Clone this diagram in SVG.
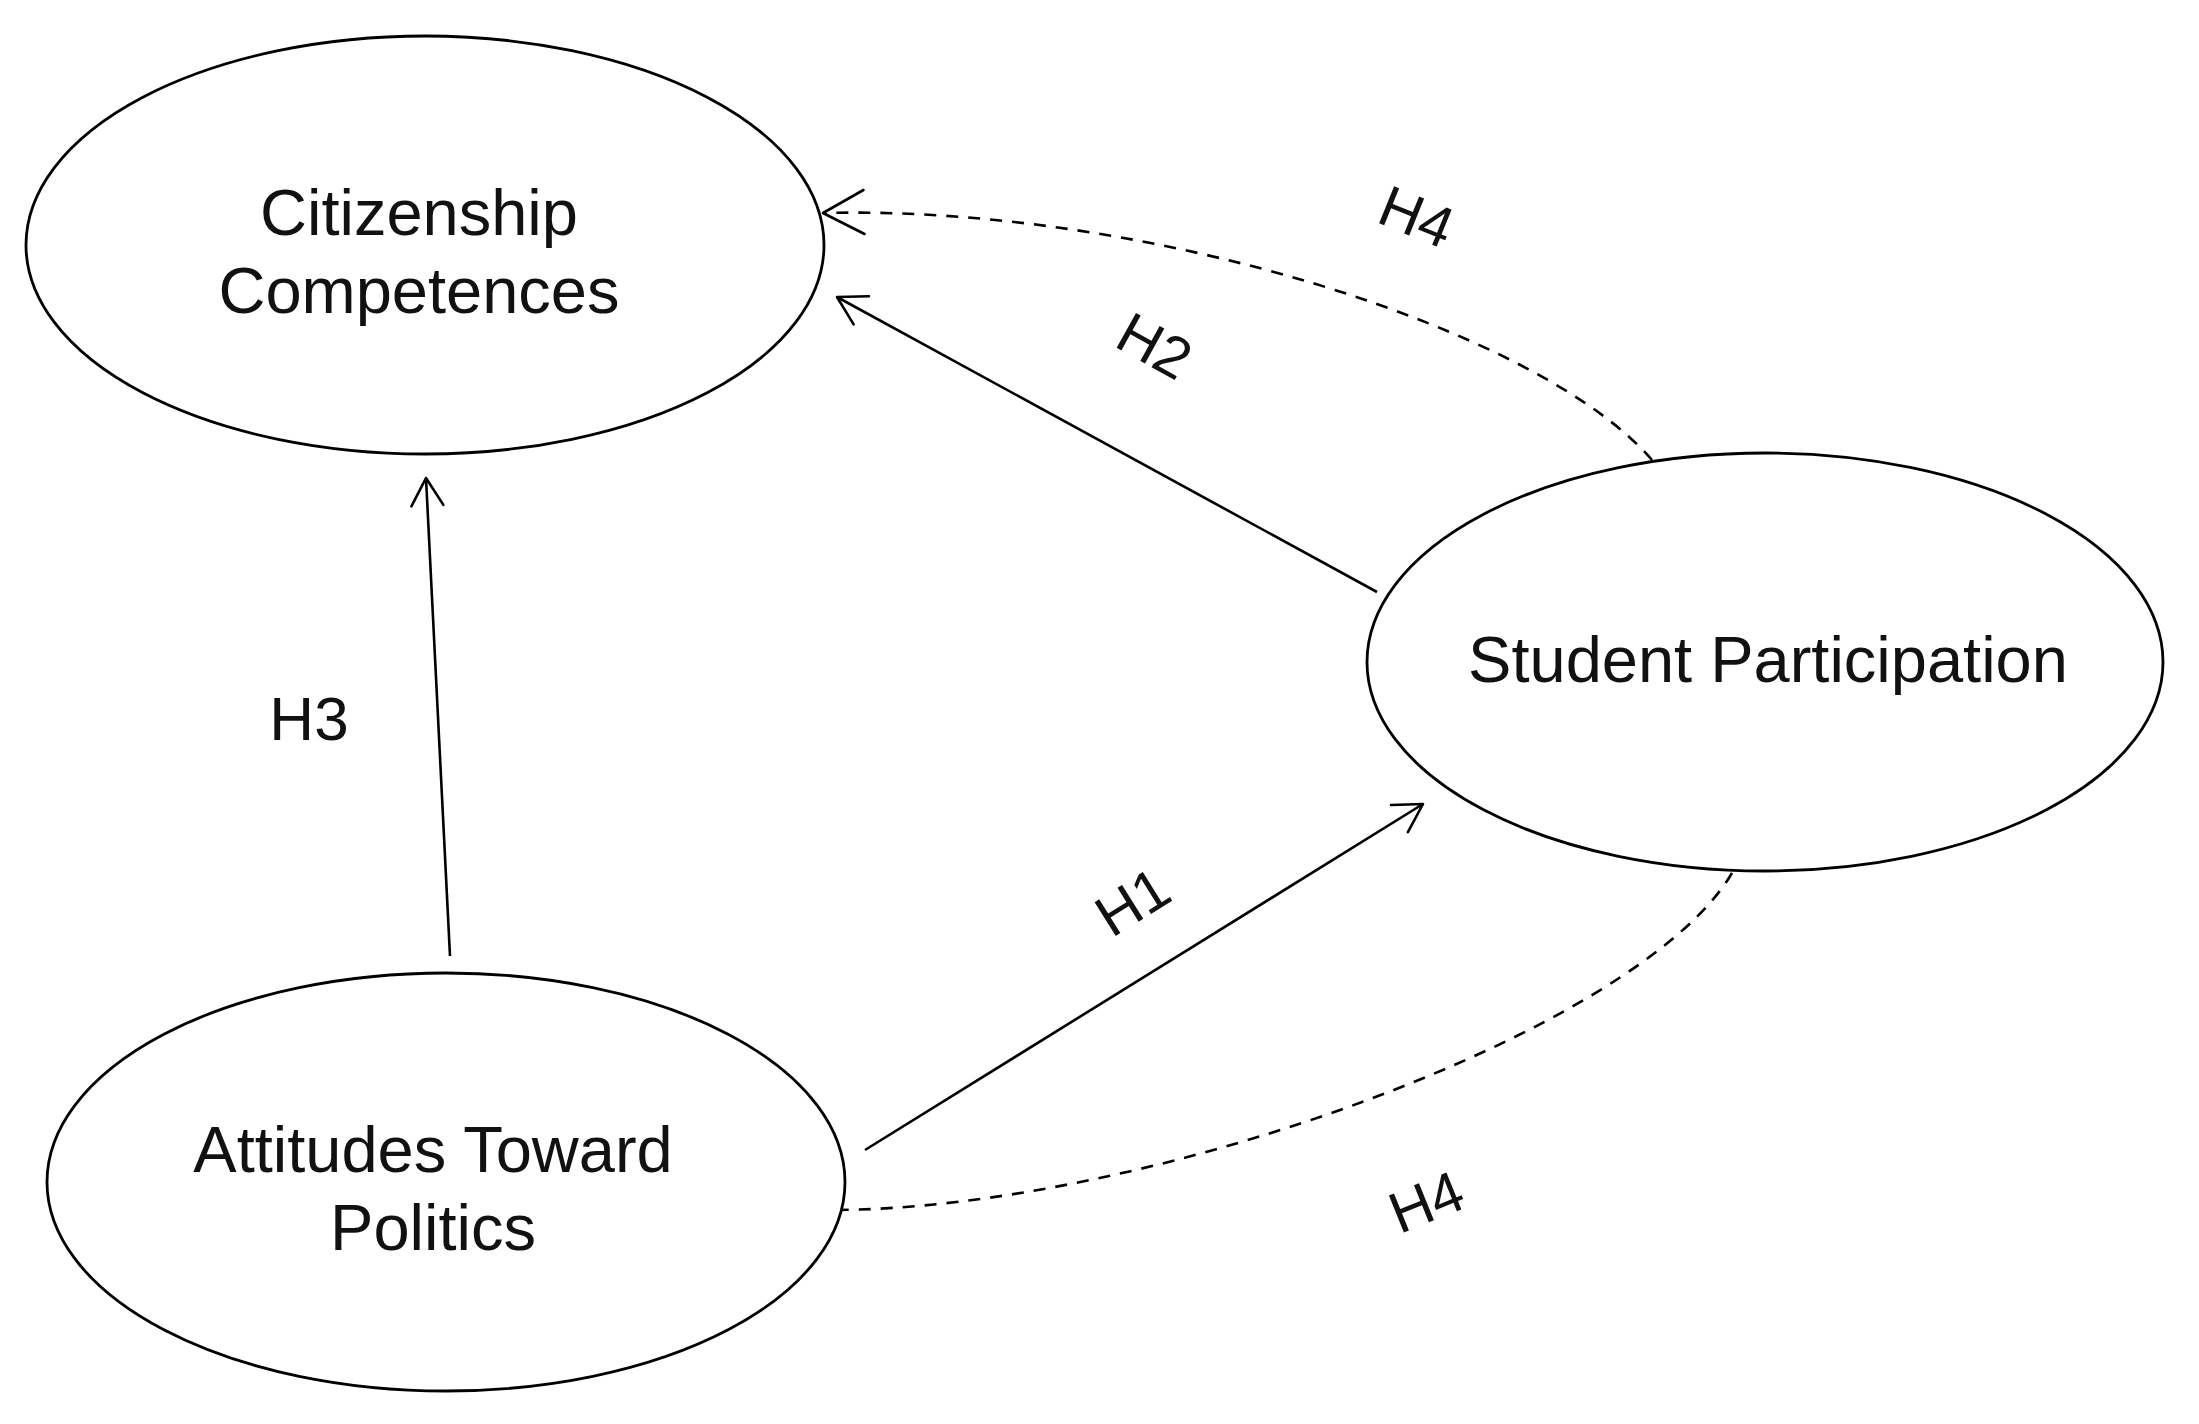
<svg xmlns="http://www.w3.org/2000/svg" width="2199" height="1424" viewBox="0 0 2199 1424">
  <style>
    .node { fill: #ffffff; stroke: #000000; stroke-width: 2.8; }
    .ntext { font-family: "Liberation Sans", Arial, sans-serif; font-size: 65px; fill: #111111; text-anchor: middle; }
    .edge { fill: none; stroke: #000000; stroke-width: 2.6; }
    .dash { fill: none; stroke: #000000; stroke-width: 2.6; stroke-dasharray: 12 10; }
    .elabel { font-family: "Liberation Sans", Arial, sans-serif; font-size: 58px; fill: #111111; text-anchor: middle; }
  </style>
  <defs>
    <marker id="arr" markerUnits="userSpaceOnUse" markerWidth="80" markerHeight="80" viewBox="-40 -40 80 80" refX="0" refY="0" orient="auto">
      <path d="M-27.7,-16 L0,0 L-27.7,16" fill="none" stroke="#000" stroke-width="2.6" stroke-linecap="round" stroke-linejoin="round"/>
    </marker>
    <marker id="arrBig" markerUnits="userSpaceOnUse" markerWidth="100" markerHeight="100" viewBox="-50 -50 100 100" refX="0" refY="0" orient="auto">
      <path d="M-41,-22 L0,0 L-41,22" fill="none" stroke="#000" stroke-width="2.6" stroke-linecap="round" stroke-linejoin="round"/>
    </marker>
  </defs>
  <rect width="2199" height="1424" fill="#ffffff"/>

  <g id="connectors">
    <line class="edge" x1="450" y1="956" x2="426" y2="478" marker-end="url(#arr)"/>
    <line class="edge" x1="1377" y1="592" x2="837" y2="297" marker-end="url(#arr)"/>
    <line class="edge" x1="865" y1="1150" x2="1423" y2="804" marker-end="url(#arr)"/>
    <path class="dash" d="M1652,460 C1540,330 1150,205 823,213" marker-end="url(#arrBig)"/>
    <path class="dash" d="M1732,873 C1640,1030 1150,1210 830,1210"/>
    <text class="elabel" style="font-size:62px" x="309" y="740">H3</text>
    <text class="elabel" transform="translate(1155,345) rotate(29)" x="0" y="21">H2</text>
    <text class="elabel" transform="translate(1132,901) rotate(-32)" x="0" y="21">H1</text>
    <text class="elabel" transform="translate(1417,216) rotate(22)" x="0" y="21">H4</text>
    <text class="elabel" transform="translate(1426,1201) rotate(-22)" x="0" y="21">H4</text>
  </g>

  <g id="citizenship">
    <ellipse class="node" cx="425" cy="245" rx="399" ry="209"/>
    <text class="ntext" x="419" y="235">Citizenship</text>
    <text class="ntext" x="419" y="313">Competences</text>
  </g>

  <g id="student">
    <ellipse class="node" cx="1765" cy="662" rx="398" ry="209"/>
    <text class="ntext" x="1768" y="682">Student Participation</text>
  </g>

  <g id="attitudes">
    <ellipse class="node" cx="446" cy="1182" rx="399" ry="209"/>
    <text class="ntext" x="433" y="1172">Attitudes Toward</text>
    <text class="ntext" x="433" y="1250">Politics</text>
  </g>
</svg>
